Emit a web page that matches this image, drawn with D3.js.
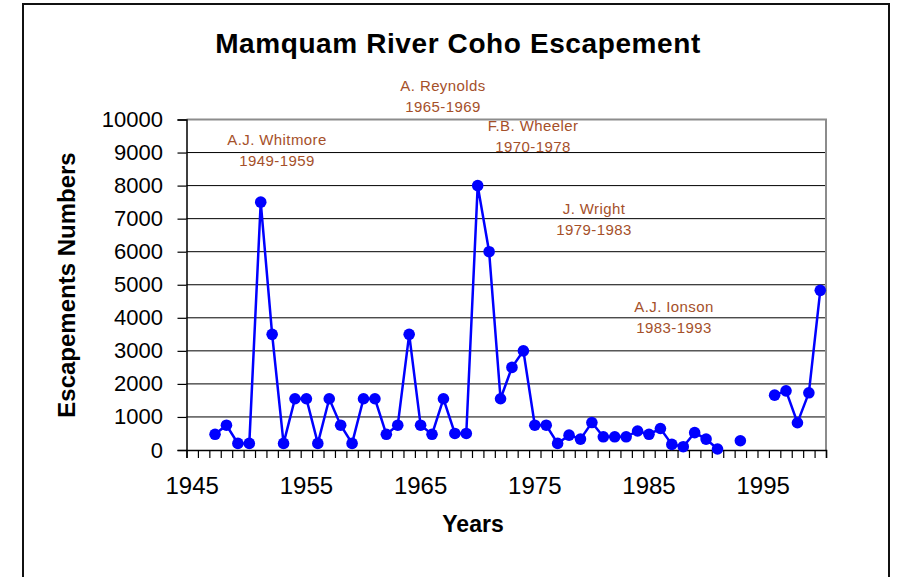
<!DOCTYPE html>
<html>
<head>
<meta charset="utf-8">
<script src="https://cdn.jsdelivr.net/npm/d3@7"></script>
<style>
  body { margin: 0; background: #fff; }
  svg { display: block; font-family: "Liberation Sans", Arial, sans-serif; }
</style>
</head>
<body>
<div id="chart"></div>
<script>
// years on the category axis
const years = d3.range(1945, 2001);

// coho escapement, null where no count was made
const escapement = [
  null, null, 475, 750, 200, 200, 7500, 3500, 200, 1550,
  1550, 200, 1550, 750, 200, 1550, 1550, 475, 750, 3500,
  750, 475, 1550, 500, 500, 8000, 6000, 1550, 2500, 3000,
  750, 750, 200, 450, 330, 830, 400, 400, 400, 575,
  475, 650, 170, 100, 525, 330, 30, null, 280, null,
  null, 1660, 1790, 825, 1730, 4830
];

const xTickLabels = [1945, 1955, 1965, 1975, 1985, 1995];
const yTicks = d3.range(0, 10001, 1000);

// officer annotations
const officers = ["A. Reynolds", "A.J. Whitmore", "F.B. Wheeler", "J. Wright", "A.J. Ionson"];
const officerYears = ["1965-1969", "1949-1959", "1970-1978", "1979-1983", "1983-1993"];

const W = 899, H = 577;
const m = { left: 186.5, right: 826, top: 119.5, bottom: 450 };

const svg = d3.select("#chart").append("svg")
  .attr("width", W)
  .attr("height", H);

// outer chart frame
svg.append("rect")
  .attr("x", 23).attr("y", 4)
  .attr("width", 866).attr("height", 620)
  .attr("fill", "none")
  .attr("stroke", "#111")
  .attr("stroke-width", 2);

const x = d3.scaleBand().domain(years).range([m.left, m.right]);
const xl = d3.scaleLinear().domain([1945, 2001]).range([m.left, m.right]);
const y = d3.scaleLinear().domain([0, 10000]).range([m.bottom, m.top]);

// gridlines
svg.append("g")
  .selectAll("line")
  .data(yTicks.slice(1, -1))
  .join("line")
  .attr("x1", m.left).attr("x2", m.right)
  .attr("y1", d => y(d)).attr("y2", d => y(d))
  .attr("stroke", "#000")
  .attr("stroke-width", 1);

// plot area border (top and right)
svg.append("path")
  .attr("d", `M${m.left},${y(10000)}H${m.right}V${m.bottom}`)
  .attr("fill", "none")
  .attr("stroke", "#8c8c8c")
  .attr("stroke-width", 2);

// y axis
const yAxis = svg.append("g")
  .attr("transform", `translate(${m.left},0)`)
  .call(d3.axisLeft(y).tickValues(yTicks).tickSize(9).tickPadding(14.5).tickFormat(d3.format("d")));
yAxis.selectAll("text").attr("font-size", 22).attr("fill", "#000");

// x axis tick marks between categories
svg.append("g")
  .attr("transform", `translate(0,${m.bottom})`)
  .call(d3.axisBottom(xl).tickValues(d3.range(1945, 2002)).tickSize(8).tickFormat(""));

// x axis labels
const xAxis = svg.append("g")
  .attr("transform", `translate(0,${m.bottom})`)
  .call(d3.axisBottom(x).tickValues(xTickLabels).tickSize(0).tickPadding(27));
xAxis.select(".domain").remove();
xAxis.selectAll("text").attr("font-size", 24).attr("fill", "#000");

svg.selectAll(".domain").attr("stroke-width", 1.5);
svg.selectAll(".tick line").attr("stroke-width", 1.2);

// series
const pts = years.map((yr, i) => ({ yr, v: escapement[i] }));
const cx = d => x(d.yr) + x.bandwidth() / 2;

svg.append("path")
  .datum(pts)
  .attr("fill", "none")
  .attr("stroke", "#0000ff")
  .attr("stroke-width", 2.5)
  .attr("d", d3.line().defined(d => d.v != null).x(cx).y(d => y(d.v)));

svg.append("g")
  .selectAll("circle")
  .data(pts.filter(d => d.v != null))
  .join("circle")
  .attr("cx", cx)
  .attr("cy", d => y(d.v))
  .attr("r", 5.8)
  .attr("fill", "#0000ff");

// annotations
const notes = svg.append("g")
  .attr("fill", "#a5502a")
  .attr("font-size", 15)
  .attr("letter-spacing", 0.4)
  .attr("text-anchor", "middle");
const notePos = [[443, 91], [277, 145], [533, 131], [594, 214], [674, 312]];
officers.forEach((name, i) => {
  notes.append("text").attr("x", notePos[i][0]).attr("y", notePos[i][1]).text(name);
  notes.append("text").attr("x", notePos[i][0]).attr("y", notePos[i][1] + 21).text(officerYears[i]);
});

// titles
svg.append("text")
  .attr("x", 458).attr("y", 53)
  .attr("text-anchor", "middle")
  .attr("font-size", 28)
  .attr("font-weight", "bold")
  .attr("letter-spacing", 0.6)
  .text("Mamquam River Coho Escapement");

svg.append("text")
  .attr("transform", "translate(75,285) rotate(-90)")
  .attr("text-anchor", "middle")
  .attr("font-size", 24)
  .attr("font-weight", "bold")
  .text("Escapements Numbers");

svg.append("text")
  .attr("x", 473).attr("y", 532)
  .attr("text-anchor", "middle")
  .attr("font-size", 23)
  .attr("font-weight", "bold")
  .text("Years");
</script>
</body>
</html>
